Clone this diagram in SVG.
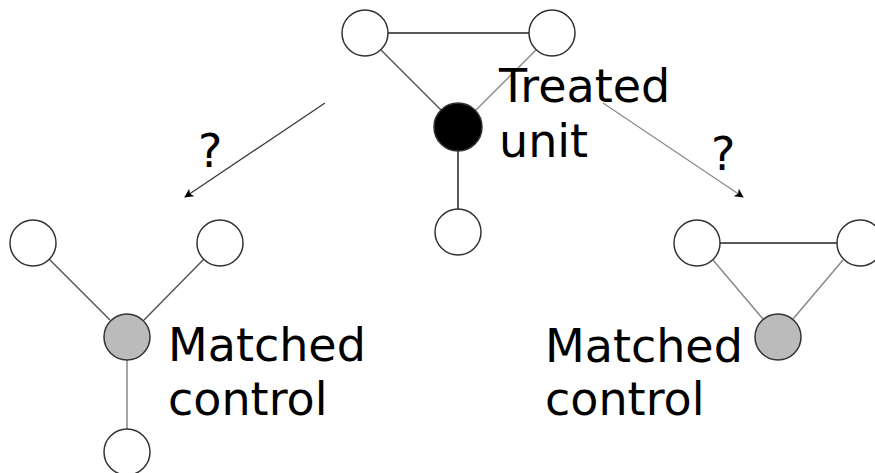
<svg xmlns="http://www.w3.org/2000/svg" width="875" height="473" viewBox="0 0 875 473">
  <style>
    .node { stroke: #333; stroke-width: 1.5; fill: #fff; }
    .treated { fill: #000; }
    .control { fill: #bbb; }
    .edge { stroke: #222; stroke-width: 1.5; fill: none; }
    .edge.soft { stroke: #888; }
    .edge.mid { stroke: #555; }
    .arrow { stroke-width: 1.2; fill: none; }
    .label { font-family: "DejaVu Sans", sans-serif; font-size: 46px; fill: #000; }
  </style>
  <defs>
    <marker id="head" viewBox="0 0 10 10" refX="9" refY="5" markerWidth="9" markerHeight="9" markerUnits="userSpaceOnUse" orient="auto">
      <path d="M0,0 L10,5 L0,10 L2.5,5 Z" fill="#000"/>
    </marker>
  </defs>

  <g id="connectors">
    <!-- treated unit network -->
    <line class="edge" x1="388" y1="33" x2="529" y2="33"/>
    <line class="edge mid" x1="381" y1="50" x2="442" y2="111"/>
    <line class="edge soft" x1="536" y1="50" x2="475" y2="111"/>
    <line class="edge" x1="458" y1="151" x2="458" y2="209"/>
    <!-- left matched control network -->
    <line class="edge mid" x1="49" y1="259" x2="110" y2="320"/>
    <line class="edge mid" x1="204" y1="259" x2="144" y2="320"/>
    <line class="edge soft" x1="127" y1="360" x2="127" y2="429"/>
    <!-- right matched control network -->
    <line class="edge" x1="720" y1="243" x2="837" y2="243"/>
    <line class="edge soft" x1="713" y1="260" x2="763" y2="319"/>
    <line class="edge soft" x1="843" y1="260" x2="793" y2="319"/>
    <!-- matching arrows -->
    <line class="arrow" stroke="#333" x1="325" y1="103" x2="185" y2="197" marker-end="url(#head)"/>
    <line class="arrow" stroke="#888" x1="603" y1="103" x2="743" y2="197" marker-end="url(#head)"/>
  </g>

  <g id="treated-top-left"><circle class="node" cx="365" cy="33" r="23"/></g>
  <g id="treated-top-right"><circle class="node" cx="552" cy="33" r="23"/></g>
  <g id="treated-unit">
    <circle class="node treated" cx="458" cy="127" r="24"/>
    <text class="label" x="499" y="102">Treated</text>
    <text class="label" x="499" y="157">unit</text>
  </g>
  <g id="treated-bottom"><circle class="node" cx="458" cy="232" r="23"/></g>

  <g id="left-top-left"><circle class="node" cx="33" cy="243" r="23"/></g>
  <g id="left-top-right"><circle class="node" cx="220" cy="243" r="23"/></g>
  <g id="left-control">
    <circle class="node control" cx="127" cy="337" r="23"/>
    <text class="label" x="168" y="361">Matched</text>
    <text class="label" x="168" y="415">control</text>
  </g>
  <g id="left-bottom"><circle class="node" cx="127" cy="452" r="23"/></g>

  <g id="right-left"><circle class="node" cx="697" cy="243" r="23"/></g>
  <g id="right-right"><circle class="node" cx="860" cy="243" r="23"/></g>
  <g id="right-control">
    <circle class="node control" cx="778" cy="337" r="23"/>
    <text class="label" x="545" y="362">Matched</text>
    <text class="label" x="545" y="415">control</text>
  </g>

  <g id="arrow-labels">
    <text class="label" x="198" y="167">?</text>
    <text class="label" x="711" y="170">?</text>
  </g>
</svg>
